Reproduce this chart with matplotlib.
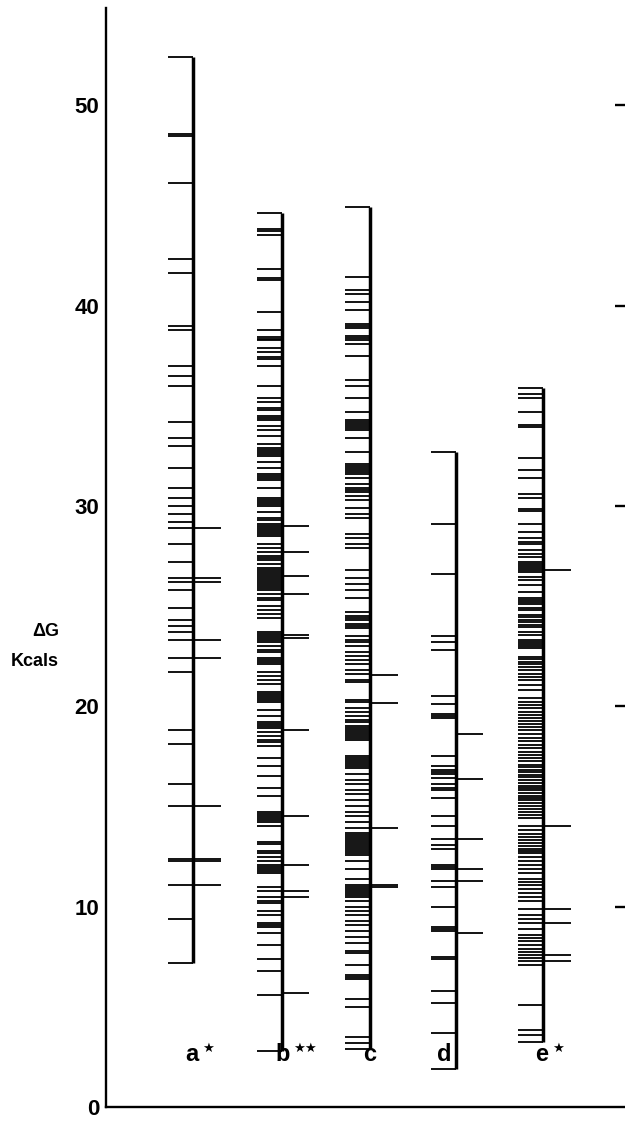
import matplotlib
matplotlib.use('Agg')
import matplotlib.pyplot as plt

plt.rcParams['font.family'] = ['Liberation Sans', 'DejaVu Sans']
plt.rcParams['font.weight'] = 'bold'

# Delta G levels (Kcals), one list per column
names = ['a', 'b', 'c', 'd', 'e']
stars = ['\u2605', '\u2605\u2605', '', '', '\u2605']

a_left = [52.4, 48.55, 48.45, 46.1, 42.3, 41.6, 39.0, 38.8, 37.0, 36.5, 36.0, 34.2, 33.4,
          33.0, 31.9, 30.9, 30.4, 30.0, 29.6, 29.2, 28.9, 28.1, 27.2, 26.4, 26.2, 25.8,
          24.9, 24.3, 24.0, 23.7, 23.3, 22.4, 21.7, 18.8, 18.1, 16.1, 15.0, 12.4, 12.3,
          11.1, 9.4, 7.2]
a_right = [28.9, 26.4, 26.2, 23.3, 22.4, 15.0, 12.4, 12.3, 11.1]

b_left = [44.6, 43.8, 43.7, 43.5, 41.8, 41.35, 41.25, 39.7, 38.8, 38.45, 38.35, 38.3, 37.9,
          37.7, 37.45, 37.35, 37.0, 36.0, 35.4, 35.2, 34.9, 34.8, 34.5, 34.4, 34.3, 34.0,
          33.8, 33.5, 33.1, 32.9, 32.8, 32.7, 32.6, 32.5, 32.2, 31.9, 31.6, 31.5, 31.4,
          31.3, 30.9, 30.4, 30.3, 30.2, 30.1, 30.0, 29.7, 29.4, 29.3, 29.1, 29.0, 28.9,
          28.8, 28.7, 28.6, 28.5, 28.1, 27.9, 27.7, 27.5, 27.4, 27.3, 27.1, 26.9, 26.8,
          26.7, 26.6, 26.5, 26.4, 26.3, 26.2, 26.1, 26.0, 25.9, 25.8, 25.6, 25.4, 25.3,
          25.0, 24.8, 24.6, 24.4, 23.7, 23.6, 23.5, 23.4, 23.3, 23.2, 23.0, 22.8, 22.7,
          22.4, 22.3, 22.2, 22.1, 21.7, 21.5, 21.3, 21.1, 20.7, 20.6, 20.5, 20.4, 20.3,
          20.2, 19.8, 19.5, 19.2, 19.1, 19.0, 18.9, 18.7, 18.5, 18.3, 18.2, 18.0, 17.4,
          17.0, 16.5, 15.9, 15.5, 14.7, 14.6, 14.5, 14.4, 14.3, 14.2, 14.0, 13.25, 13.15,
          12.8, 12.7, 12.5, 12.3, 12.1, 12.0, 11.9, 11.8, 11.7, 11.0, 10.8, 10.5, 10.3,
          10.2, 9.8, 9.6, 9.2, 9.1, 9.0, 8.7, 8.1, 7.4, 6.8, 5.6, 2.8]
b_right = [29.0, 27.7, 26.5, 25.6, 23.55, 23.4, 18.8, 14.5, 12.1, 10.8, 10.5, 5.7]

c_left = [44.9, 41.4, 40.8, 40.6, 40.2, 39.8, 39.1, 39.0, 38.9, 38.5, 38.4, 38.3, 38.1, 37.5,
          36.3, 36.0, 35.4, 34.7, 34.3, 34.2, 34.1, 34.0, 33.9, 33.8, 33.4, 32.7, 32.1,
          32.0, 31.9, 31.8, 31.7, 31.6, 31.4, 31.1, 30.9, 30.8, 30.7, 30.5, 30.3, 29.9,
          29.6, 29.4, 28.6, 28.4, 28.1, 27.9, 26.8, 26.4, 26.1, 25.8, 25.4, 24.7, 24.5,
          24.4, 24.3, 24.1, 24.0, 23.9, 23.5, 23.3, 23.2, 23.0, 22.7, 22.5, 22.3, 22.1,
          21.8, 21.6, 21.3, 21.2, 20.3, 20.2, 19.9, 19.7, 19.5, 19.3, 19.2, 19.0, 18.9,
          18.8, 18.7, 18.6, 18.5, 18.4, 18.3, 17.5, 17.4, 17.3, 17.2, 17.1, 17.0, 16.9,
          16.6, 16.3, 16.1, 15.8, 15.6, 15.3, 15.0, 14.7, 14.5, 14.2, 13.9, 13.7, 13.6,
          13.5, 13.4, 13.3, 13.2, 13.1, 13.0, 12.9, 12.8, 12.7, 12.6, 12.3, 11.9, 11.4,
          11.1, 11.0, 10.9, 10.8, 10.7, 10.6, 10.5, 10.3, 10.0, 9.8, 9.6, 9.3, 9.1, 8.8,
          8.5, 8.2, 7.8, 7.7, 7.1, 6.6, 6.5, 6.4, 5.4, 5.0, 3.5, 3.2, 2.9]
c_right = [21.55, 20.15, 13.9, 11.1, 11.0]

d_left = [32.7, 29.1, 26.6, 23.5, 23.2, 22.8, 20.5, 20.1, 19.6, 19.5, 19.4, 17.5, 17.0, 16.8,
          16.7, 16.6, 16.4, 16.1, 15.9, 15.8, 15.4, 14.5, 14.0, 13.4, 13.1, 12.9, 12.1,
          12.0, 11.9, 11.3, 11.0, 10.0, 9.0, 8.9, 8.8, 7.5, 7.4, 5.8, 5.2, 3.7, 1.9]
d_right = [18.6, 16.35, 13.4, 11.9, 11.3, 8.7]

e_left = [35.9, 35.6, 35.4, 34.7, 34.05, 33.95, 32.4, 31.8, 31.4, 30.6, 30.4, 29.85, 29.75,
          29.1, 28.7, 28.4, 28.2, 28.1, 27.8, 27.6, 27.45, 27.2, 27.1, 27.0, 26.9, 26.8,
          26.7, 26.45, 26.3, 26.05, 25.7, 25.4, 25.3, 25.2, 25.1, 24.9, 24.8, 24.55, 24.45,
          24.3, 24.2, 24.05, 23.95, 23.7, 23.55, 23.3, 23.2, 23.1, 23.0, 22.9, 22.45, 22.35,
          22.2, 22.1, 21.96, 21.8, 21.6, 21.46, 21.3, 21.06, 20.8, 20.4, 20.2, 20.06, 19.9,
          19.7, 19.55, 19.4, 19.25, 19.1, 18.95, 18.8, 18.6, 18.4, 18.25, 18.06, 17.9, 17.7,
          17.55, 17.4, 17.25, 17.07, 16.95, 16.8, 16.7, 16.57, 16.45, 16.3, 16.15, 16.0,
          15.9, 15.8, 15.65, 15.5, 15.4, 15.3, 15.15, 15.0, 14.85, 14.7, 14.55, 14.4, 14.0,
          13.8, 13.65, 13.5, 13.35, 13.2, 13.05, 12.9, 12.8, 12.7, 12.5, 12.3, 12.1, 11.9,
          11.7, 11.4, 11.25, 11.1, 10.9, 10.7, 10.5, 10.3, 9.9, 9.6, 9.4, 9.2, 8.9, 8.6,
          8.45, 8.3, 8.1, 7.9, 7.75, 7.6, 7.45, 7.3, 7.1, 5.1, 3.84, 3.6, 3.24]
e_right = [26.8, 14.0, 9.9, 9.2, 7.6, 7.3]

left_levels = [a_left, b_left, c_left, d_left, e_left]
right_levels = [a_right, b_right, c_right, d_right, e_right]

y_ticks = [0, 10, 20, 30, 40, 50]

# layout (axis units, x runs 0..10 across the plot)
col_x = [1.68, 3.39, 5.09, 6.74, 8.42]
label_x = [1.66, 3.41, 5.09, 6.52, 8.40]
left_len = 0.48
right_len = 0.53

fig = plt.figure(figsize=(6.25, 11.22), dpi=100)
ax = fig.add_axes([106 / 625, 15 / 1122, 1 - 106 / 625, 1099 / 1122])
ax.set_xlim(0, 10)
ax.set_ylim(0, 54.85)

for x, left, right in zip(col_x, left_levels, right_levels):
    ax.vlines(x, min(left), max(left), color='black', lw=2.5)
    ax.hlines(left, x - left_len, x, color='black', lw=1.3)
    ax.hlines(right, x, x + right_len, color='black', lw=1.3)

for x, n, s in zip(label_x, names, stars):
    ax.text(x, 2.6, n, ha='center', va='center', fontsize=17, fontweight='bold')
    if s:
        ax.annotate(s, (x, 2.6), xytext=(7, 5), textcoords='offset points',
                    ha='left', va='center', fontsize=9.5, family='DejaVu Sans')

for side in ['top', 'right']:
    ax.spines[side].set_visible(False)
ax.spines['left'].set_linewidth(1.7)
ax.spines['bottom'].set_linewidth(1.7)

ax.set_xticks([])
ax.set_yticks(y_ticks)
ax.set_yticklabels([str(v) for v in y_ticks], fontsize=16, fontweight='bold')
ax.tick_params(axis='y', length=0, pad=5)

# right-hand tick marks
ax2 = ax.twinx()
ax2.set_ylim(ax.get_ylim())
ax2.set_yticks(y_ticks[1:])
ax2.set_yticklabels([])
ax2.tick_params(axis='y', direction='in', length=7, width=1.7)
for side in ['top', 'right', 'left', 'bottom']:
    ax2.spines[side].set_visible(False)

fig.text(46 / 625, 1 - 632 / 1122, '\u0394G', ha='center', va='center',
         fontsize=13, fontweight='bold')
fig.text(35 / 625, 1 - 661 / 1122, 'Kcals', ha='center', va='center',
         fontsize=13, fontweight='bold')

fig.savefig('out.png', dpi=100)
